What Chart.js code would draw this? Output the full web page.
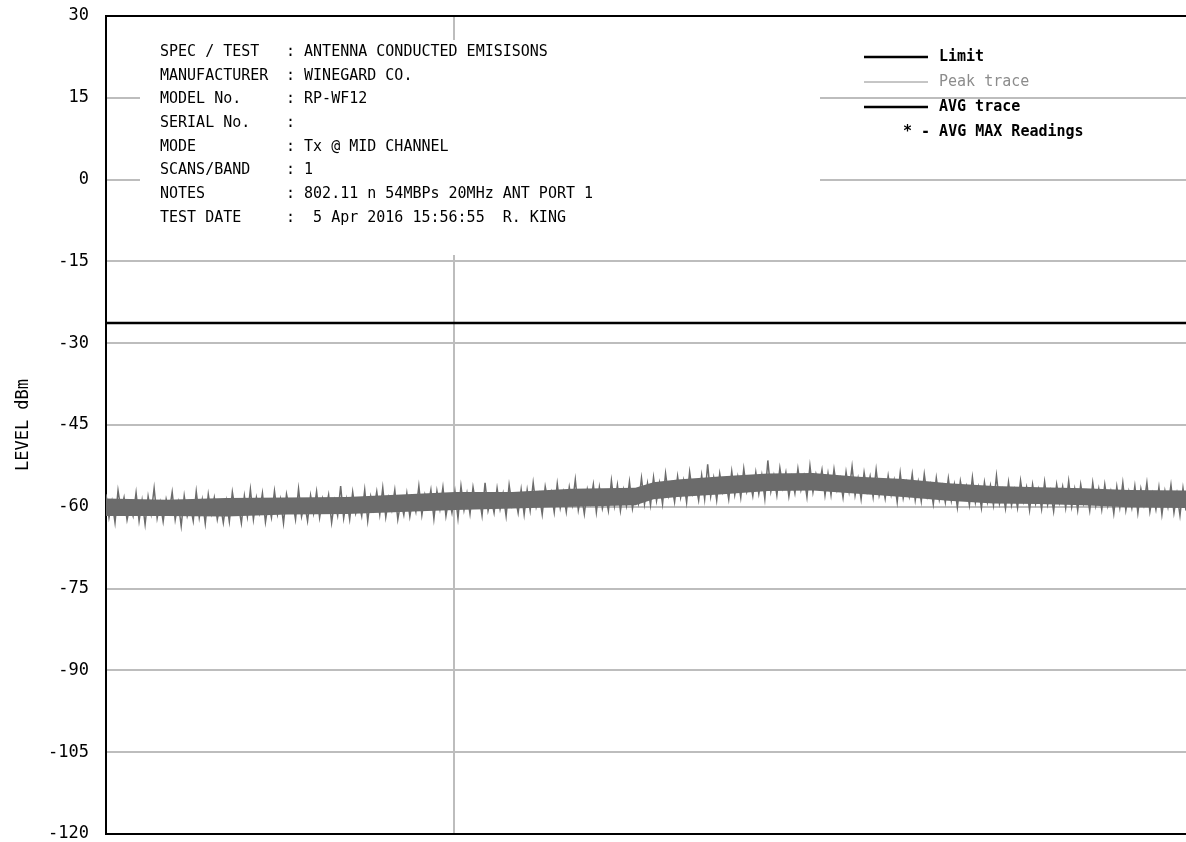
<!DOCTYPE html>
<html>
<head>
<meta charset="utf-8">
<script src="https://cdn.jsdelivr.net/npm/chart.js@4.4.1/dist/chart.umd.min.js"></script>
<style>
  html, body { margin: 0; padding: 0; background: #fff; overflow: hidden; }
  #wrap { position: relative; width: 1186px; height: 842px; }
</style>
</head>
<body>
<div id="wrap"><canvas id="emissionChart" width="1186" height="842"></canvas></div>
<script>
// level axis (dBm)
const levelTicks = [30, 15, 0, -15, -30, -45, -60, -75, -90, -105, -120];
const limitLevel = -26.3;
// sweep position of the one visible vertical grid line (sample index)
const sweepGridLines = [115.7];

// peak trace, one reading per sample across the visible sweep
const peakTrace = [
  -57.7, -62.0, -59.0, -62.9, -57.0, -60.7, -58.3, -62.4, -59.7, -61.7,
  -57.4, -62.6, -58.8, -63.2, -58.1, -61.3, -56.6, -62.1, -59.2, -62.7,
  -58.6, -61.0, -57.3, -62.4, -59.2, -63.5, -58.0, -61.7, -59.6, -62.6,
  -57.2, -62.0, -58.7, -63.1, -57.7, -61.2, -58.3, -62.3, -59.5, -62.9,
  -58.9, -62.7, -57.3, -60.8, -59.6, -63.0, -58.0, -61.8, -56.8, -62.3,
  -58.3, -61.1, -57.5, -62.8, -59.2, -62.0, -57.1, -61.4, -58.6, -63.0,
  -57.7, -60.4, -58.9, -62.3, -56.7, -61.8, -59.3, -62.6, -57.9, -61.2,
  -57.2, -62.0, -58.5, -60.7, -57.8, -62.9, -58.9, -61.6, -56.2, -62.1,
  -58.6, -62.3, -57.3, -61.2, -59.0, -61.7, -56.9, -62.6, -58.1, -60.5,
  -57.2, -61.4, -56.5, -61.9, -58.3, -60.6, -56.9, -62.3, -59.0, -61.5,
  -57.5, -61.8, -58.4, -60.9, -56.2, -61.5, -57.8, -60.0, -56.9, -62.2,
  -57.1, -60.4, -56.4, -61.7, -58.3, -61.1, -57.2, -62.1, -56.2, -60.6,
  -57.5, -61.3, -56.4, -59.8, -57.9, -61.6, -55.6, -60.7, -58.3, -61.1,
  -56.6, -60.4, -57.6, -61.7, -56.0, -59.8, -58.1, -61.1, -56.8, -61.4,
  -56.9, -60.7, -55.6, -60.0, -57.7, -61.4, -56.3, -59.2, -57.3, -61.0,
  -55.8, -60.2, -57.3, -60.9, -56.4, -59.6, -55.0, -60.6, -57.6, -61.3,
  -56.8, -59.3, -55.9, -61.0, -56.4, -60.3, -57.7, -60.7, -55.2, -59.8,
  -56.0, -60.7, -56.9, -59.8, -55.4, -60.3, -57.2, -59.4, -54.7, -59.5,
  -55.7, -59.7, -54.6, -58.9, -55.6, -59.5, -53.9, -58.0, -55.8, -59.1,
  -54.4, -58.3, -55.2, -59.2, -53.6, -57.6, -55.8, -58.8, -54.2, -58.6,
  -52.2, -58.1, -54.7, -58.8, -53.9, -57.3, -55.3, -58.6, -53.5, -57.8,
  -54.5, -58.3, -53.0, -57.2, -55.1, -58.0, -53.7, -57.6, -54.2, -58.5,
  -51.5, -57.2, -54.3, -57.9, -52.9, -56.5, -53.7, -58.1, -54.6, -57.5,
  -53.0, -56.9, -54.4, -58.2, -52.5, -57.3, -54.0, -56.2, -53.2, -57.9,
  -53.9, -57.8, -53.1, -56.9, -54.8, -58.3, -53.6, -57.2, -52.6, -57.9,
  -54.8, -58.6, -53.7, -57.1, -54.4, -58.2, -53.2, -57.9, -55.4, -58.5,
  -54.3, -57.8, -55.1, -59.1, -53.8, -58.4, -55.5, -58.1, -54.0, -58.8,
  -55.4, -59.0, -54.0, -58.1, -55.9, -59.5, -54.7, -58.7, -56.2, -59.2,
  -54.8, -58.9, -55.9, -60.1, -55.3, -58.3, -56.2, -59.7, -54.6, -59.2,
  -56.4, -60.2, -55.5, -59.1, -56.1, -59.7, -54.3, -59.4, -56.9, -60.3,
  -55.5, -59.7, -56.9, -60.2, -55.2, -59.0, -56.4, -60.6, -55.9, -59.4,
  -56.8, -60.4, -55.4, -59.6, -57.1, -60.8, -55.9, -59.2, -56.3, -60.2,
  -55.3, -60.0, -56.7, -60.6, -55.9, -59.4, -57.3, -60.7, -55.6, -59.8,
  -56.7, -60.5, -55.9, -59.8, -57.2, -61.2, -56.3, -60.1, -55.6, -60.6,
  -57.2, -60.2, -56.2, -61.1, -56.7, -59.6, -55.6, -60.9, -57.6, -60.5,
  -56.4, -61.4, -57.1, -60.0, -56.0, -61.1, -57.6, -61.6, -56.6, -60.7,
];

// solid core of the peak trace (where the sweep is dense), read at a few samples
const coreSamples = [0, 20, 40, 60, 80, 100, 116, 135, 155, 176, 182, 190, 205, 220, 235, 250, 265, 280, 295, 310, 325, 340, 359];
const coreUpper = [-58.5, -58.7, -58.4, -58.3, -58.2, -57.7, -57.3, -57.3, -56.7, -56.5, -55.5, -55.0, -54.4, -53.9, -53.8, -54.5, -54.9, -55.7, -56.2, -56.4, -56.6, -56.9, -57.0];
const coreLower = [-61.7, -61.7, -61.8, -61.4, -61.3, -60.9, -60.6, -60.3, -60.0, -59.7, -58.6, -58.2, -57.7, -57.1, -57.0, -57.6, -58.2, -58.9, -59.4, -59.5, -59.7, -60.1, -60.2];

const legendLabels = ["Limit", "Peak trace", "AVG trace"];
const legendNote = "* - AVG MAX Readings";

const headerLabels = [
  "SPEC / TEST", "MANUFACTURER", "MODEL No.", "SERIAL No.",
  "MODE", "SCANS/BAND", "NOTES", "TEST DATE",
];
const headerValues = [
  ": ANTENNA CONDUCTED EMISISONS",
  ": WINEGARD CO.",
  ": RP-WF12",
  ":",
  ": Tx @ MID CHANNEL",
  ": 1",
  ": 802.11 n 54MBPs 20MHz ANT PORT 1",
  ":  5 Apr 2016 15:56:55  R. KING",
];

const plotFont = '"DejaVu Sans Mono", monospace';
const traceGrey = "#6b6b6b";
const lastSample = peakTrace.length - 1;

const headerPanel = {
  id: "headerPanel",
  beforeDatasetsDraw(chart) {
    const ctx = chart.ctx;
    ctx.save();
    // white panel hides the grid behind the test info
    ctx.fillStyle = "#fff";
    ctx.fillRect(140, 40, 680, 215);
    ctx.fillStyle = "#000";
    ctx.font = "15px " + plotFont;
    ctx.textBaseline = "middle";
    headerLabels.forEach((label, i) => {
      const y = 52 + i * 23.7;
      ctx.fillText(label, 160, y);
      ctx.fillText(headerValues[i], 286, y);
    });
    ctx.restore();
  },
  afterDatasetsDraw(chart) {
    const ctx = chart.ctx;
    const styles = [
      { color: "#000", width: 2.5, bold: true },
      { color: "#8c8c8c", width: 1, bold: false },
      { color: "#000", width: 2.5, bold: true },
    ];
    ctx.save();
    ctx.textBaseline = "middle";
    legendLabels.forEach((label, i) => {
      const y = 57 + i * 25;
      const s = styles[i];
      ctx.strokeStyle = s.color;
      ctx.lineWidth = s.width;
      ctx.beginPath();
      ctx.moveTo(864, y);
      ctx.lineTo(928, y);
      ctx.stroke();
      ctx.fillStyle = s.color;
      ctx.font = (s.bold ? "bold " : "") + "15px " + plotFont;
      ctx.fillText(label, 939, y);
    });
    ctx.fillStyle = "#000";
    ctx.font = "bold 15px " + plotFont;
    ctx.fillText(legendNote, 903, 57 + 3 * 25);
    ctx.restore();
  },
};

new Chart(document.getElementById("emissionChart"), {
  type: "line",
  data: {
    datasets: [
      {
        label: legendLabels[0],
        data: [
          { x: 0, y: limitLevel },
          { x: lastSample, y: limitLevel },
        ],
        borderColor: "#000",
        borderWidth: 2.5,
        pointRadius: 0,
      },
      {
        label: "core upper",
        data: coreSamples.map((s, i) => ({ x: s, y: coreUpper[i] })),
        borderWidth: 0,
        backgroundColor: traceGrey,
        fill: "+1",
        pointRadius: 0,
      },
      {
        label: "core lower",
        data: coreSamples.map((s, i) => ({ x: s, y: coreLower[i] })),
        borderWidth: 0,
        pointRadius: 0,
      },
      {
        label: legendLabels[1],
        data: peakTrace.map((v, i) => ({ x: i, y: v })),
        borderColor: traceGrey,
        borderWidth: 1.5,
        pointRadius: 0,
        tension: 0,
      },
      {
        label: legendLabels[2],
        data: [],
        borderColor: "#000",
        borderWidth: 2.5,
        pointRadius: 0,
      },
    ],
  },
  options: {
    responsive: false,
    animation: false,
    layout: { padding: { top: 16, bottom: 8, left: 0, right: 0 } },
    plugins: {
      legend: { display: false },
      tooltip: { enabled: false },
      filler: { propagate: false },
    },
    scales: {
      x: {
        type: "linear",
        position: "bottom",
        min: 0,
        max: lastSample,
        afterBuildTicks(scale) {
          scale.ticks = sweepGridLines.map((v) => ({ value: v }));
        },
        afterFit(scale) {
          scale.height = 0;
          scale.paddingLeft = 0;
          scale.paddingRight = 0;
        },
        ticks: { display: false },
        grid: { color: "#bdbdbd", lineWidth: 2, drawTicks: false },
        border: { color: "#000", width: 2 },
      },
      xTop: {
        type: "linear",
        position: "top",
        min: 0,
        max: lastSample,
        afterFit(scale) {
          scale.height = 0;
          scale.paddingLeft = 0;
          scale.paddingRight = 0;
        },
        ticks: { display: false },
        grid: { display: false, drawTicks: false },
        border: { color: "#000", width: 2 },
      },
      y: {
        min: -120,
        max: 30,
        afterBuildTicks(scale) {
          scale.ticks = levelTicks.map((v) => ({ value: v }));
        },
        afterFit(scale) {
          scale.width = 106;
          scale.paddingTop = 0;
          scale.paddingBottom = 0;
        },
        ticks: {
          color: "#000",
          padding: 17,
          font: { family: plotFont, size: 17 },
        },
        grid: { color: "#bdbdbd", lineWidth: 2, drawTicks: false },
        border: { color: "#000", width: 2 },
        title: {
          display: true,
          text: "LEVEL dBm",
          color: "#000",
          font: { family: plotFont, size: 17 },
          padding: { top: 13, bottom: 0 },
        },
      },
    },
  },
  plugins: [headerPanel],
});
</script>
</body>
</html>
